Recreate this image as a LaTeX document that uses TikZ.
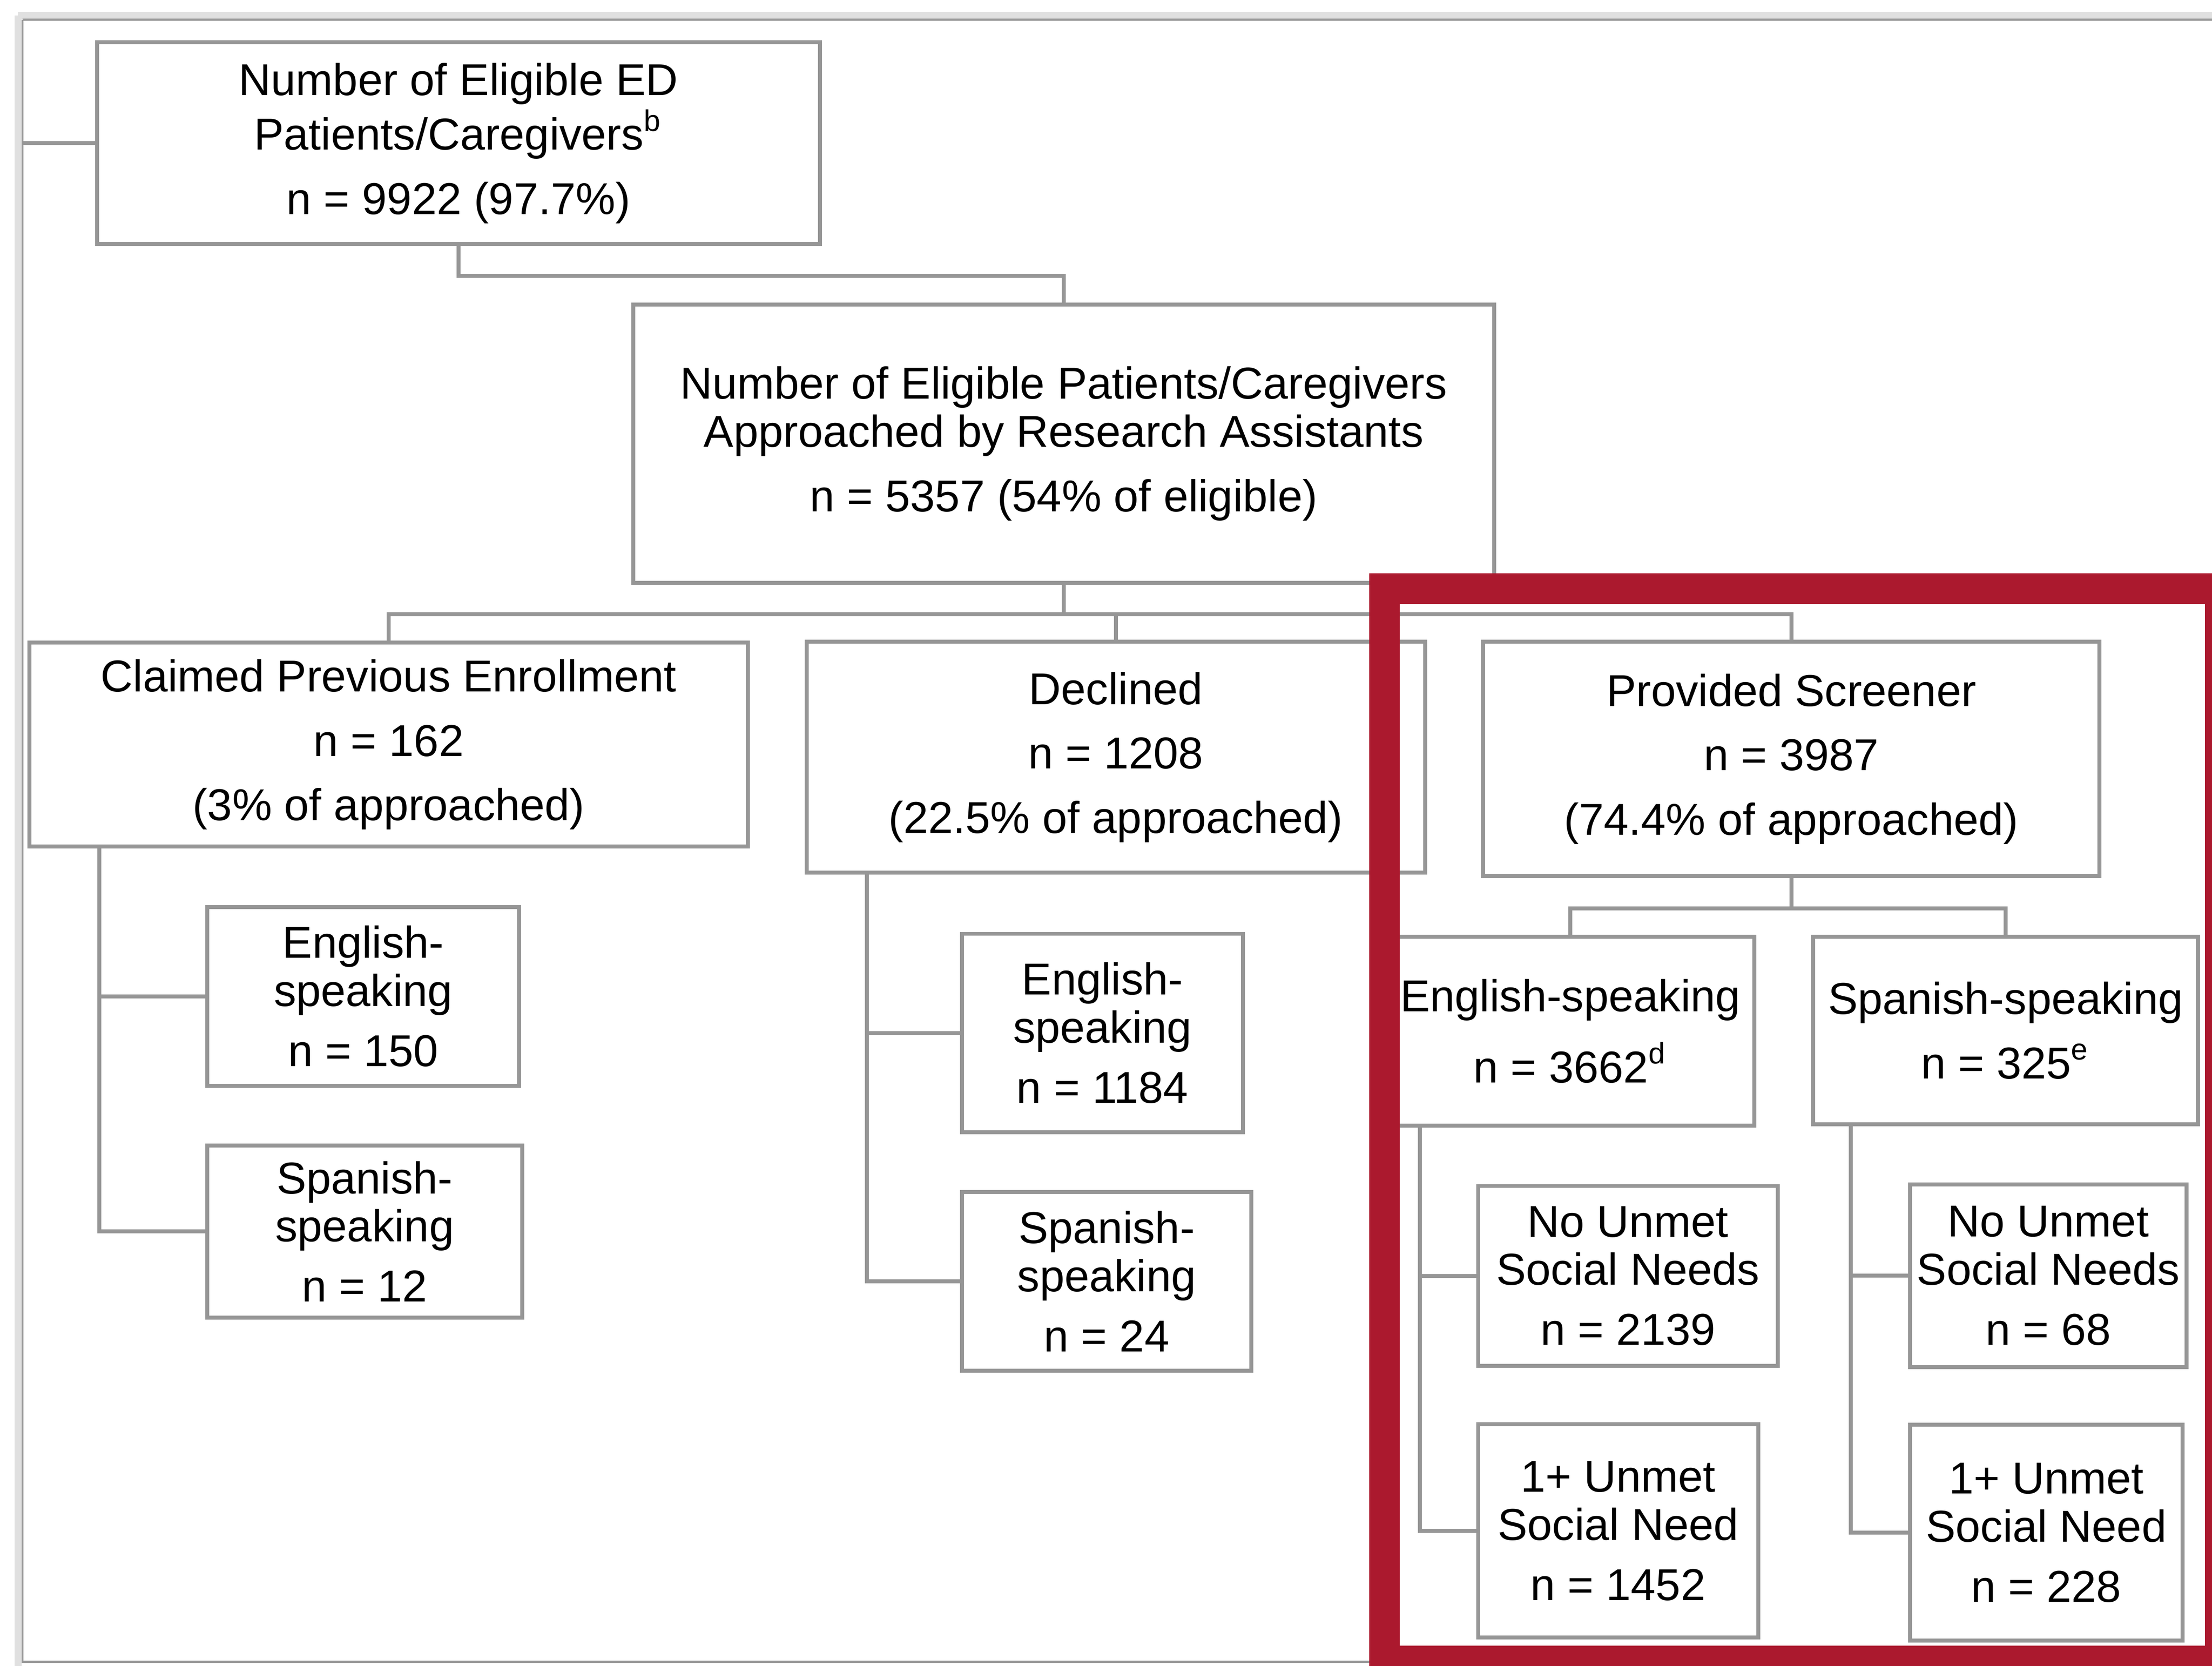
\documentclass[tikz,border=0pt]{standalone}
\usepackage{fontspec}
\setmainfont{Liberation Sans}
\usetikzlibrary{calc}
\definecolor{boxgray}{RGB}{150,150,150}
\definecolor{frameRed}{RGB}{171,25,46}
\newcommand{\gap}{\\[0.115cm]}
\newcommand{\smallgap}{\\[0.085cm]}

\begin{document}
\begin{tikzpicture}[x=0.01cm,y=-0.01cm,
    box/.style={draw=boxgray,line width=0.028cm,align=center,inner sep=0pt,font=\fontsize{9}{9.7}\selectfont},
    conn/.style={draw=boxgray,line width=0.028cm}]
    \useasboundingbox (0,0) rectangle (1568,1181);
    \clip (0,0) rectangle (1568,1181);
    \fill[white] (0,0) rectangle (1568,1181);
    \draw[black!12,line width=0.05cm] (13,11) -- (1568,11) (13,11) -- (13,1181);
    \draw[black!40,line width=0.015cm] (16,14) -- (1568,14) (16,14) -- (16,1178) -- (1568,1178);
    \coordinate (pageEdge) at (16,101.5);

    \node[box,minimum width=5.12cm,minimum height=1.43cm] (eligible) at (325,101.5) {Number of Eligible ED\\Patients/Caregivers\textsuperscript{b}\gap n = 9922 (97.7\%)};
    \node[box,minimum width=6.10cm,minimum height=1.97cm] (approached) at (754,314.5) {Number of Eligible Patients/Caregivers\\Approached by Research Assistants\gap n = 5357 (54\% of eligible)};
    \node[box,minimum width=5.09cm,minimum height=1.445cm] (claimed) at (275.5,527.8) {Claimed Previous Enrollment\gap n = 162\gap (3\% of approached)};
    \node[box,minimum width=4.38cm,minimum height=1.636cm] (declined) at (791,536.8) {Declined\gap n = 1208\gap (22.5\% of approached)};
    \node[box,minimum width=4.365cm,minimum height=1.66cm] (screener) at (1269.8,538) {Provided Screener\gap n = 3987\gap (74.4\% of approached)};

    \node[box,minimum width=2.21cm,minimum height=1.265cm] (claimEng) at (257.5,706.3) {English-\\speaking\smallgap n = 150};
    \node[box,minimum width=2.23cm,minimum height=1.22cm] (claimSpa) at (258.5,873) {Spanish-\\speaking\smallgap n = 12};
    \node[box,minimum width=1.99cm,minimum height=1.405cm] (declEng) at (781.5,732.3) {English-\\speaking\smallgap n = 1184};
    \node[box,minimum width=2.05cm,minimum height=1.266cm] (declSpa) at (784.5,908.3) {Spanish-\\speaking\smallgap n = 24};
    \node[box,minimum width=2.604cm,minimum height=1.337cm] (scrEng) at (1113.2,731) {English-speaking\gap n = 3662\textsuperscript{d}};
    \node[box,minimum width=2.727cm,minimum height=1.33cm] (scrSpa) at (1421.7,730.5) {Spanish-speaking\gap n = 325\textsuperscript{e}};

    \node[box,minimum width=2.124cm,minimum height=1.274cm] (engNo) at (1154,904.5) {No Unmet\\Social Needs\smallgap n = 2139};
    \node[box,minimum width=1.984cm,minimum height=1.508cm] (engYes) at (1147,1085.2) {1+ Unmet\\Social Need\smallgap n = 1452};
    \node[box,minimum width=1.96cm,minimum height=1.294cm] (spaNo) at (1452,904.3) {No Unmet\\Social Needs\smallgap n = 68};
    \node[box,minimum width=1.93cm,minimum height=1.53cm] (spaYes) at (1450.5,1086.5) {1+ Unmet\\Social Need\smallgap n = 228};

    \draw[conn] (eligible.west) -- (pageEdge);
    \draw[conn] (eligible.south) -- ++(0,21) -| (approached.north);
    \draw[conn] (approached.south) -- ++(0,21) coordinate (split);
    \draw[conn] (split) -| (claimed.north) (split) -| (declined.north) (split) -| (screener.north);
    \draw[conn] ($(claimed.south west)+(51,0)$) |- (claimEng.west);
    \draw[conn] ($(claimed.south west)+(51,0)$) |- (claimSpa.west);
    \draw[conn] ($(declined.south west)+(44,0)$) |- (declEng.west);
    \draw[conn] ($(declined.south west)+(44,0)$) |- (declSpa.west);
    \draw[conn] (screener.south) -- ++(0,21.5) coordinate (langSplit);
    \draw[conn] (langSplit) -| (scrEng.north) (langSplit) -| (scrSpa.north);
    \draw[conn] ($(scrEng.south west)+(25,0)$) |- (engNo.west);
    \draw[conn] ($(scrEng.south west)+(25,0)$) |- (engYes.west);
    \draw[conn] ($(scrSpa.south west)+(28,0)$) |- (spaNo.west);
    \draw[conn] ($(scrSpa.south west)+(28,0)$) |- (spaYes.west);

    \draw[frameRed,line width=0.216cm] (981.5,417.3) rectangle (1573.8,1177.5);
\end{tikzpicture}
\end{document}
